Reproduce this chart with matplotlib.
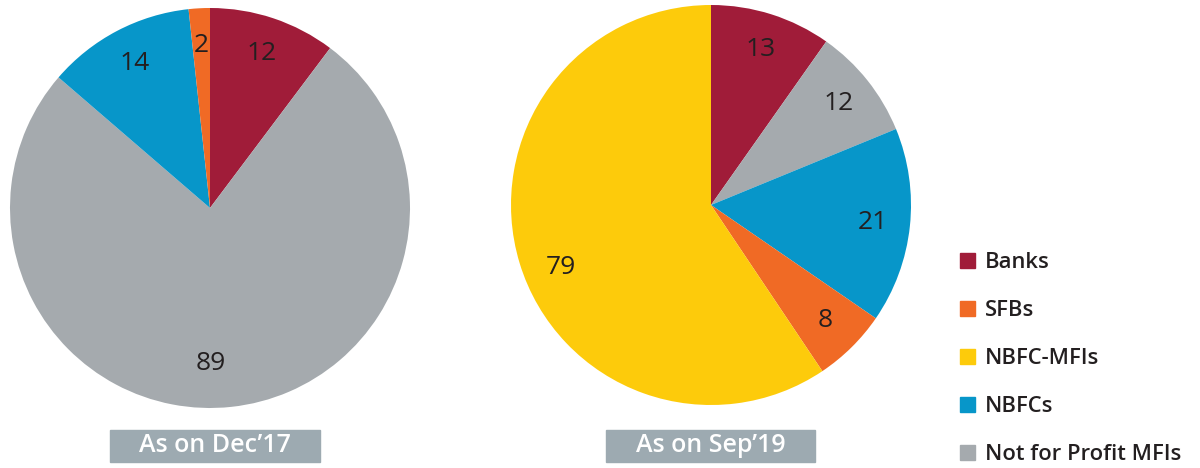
import matplotlib.pyplot as plt
from matplotlib.patches import Patch, Rectangle

plt.rcParams['font.family'] = ['Open Sans', 'DejaVu Sans']

# legend order
categories = ['Banks', 'SFBs', 'NBFC-MFIs', 'NBFCs', 'Not for Profit MFIs']
colors = {'Banks': '#A01C39', 'SFBs': '#F06A25', 'NBFC-MFIs': '#FDCB0B',
          'NBFCs': '#0796C9', 'Not for Profit MFIs': '#A5AAAE'}

# slices clockwise from 12 o'clock
dec17_order = ['Banks', 'Not for Profit MFIs', 'NBFCs', 'SFBs']
dec17_values = [12, 89, 14, 2]
sep19_order = ['Banks', 'Not for Profit MFIs', 'NBFCs', 'SFBs', 'NBFC-MFIs']
sep19_values = [13, 12, 21, 8, 79]
titles = ["As on Dec\u201917", "As on Sep\u201919"]

W, H = 1200, 468
fig = plt.figure(figsize=(12, 4.68), dpi=100)


def draw_pie(cx, cy, r, order, values, moved=None):
    ax = fig.add_axes([(cx - r) / W, (H - cy - r) / H, 2 * r / W, 2 * r / H])
    wedges, texts = ax.pie(values, colors=[colors[c] for c in order],
                           labels=[str(v) for v in values],
                           startangle=90, counterclock=False, labeldistance=0.815,
                           textprops=dict(fontsize=19, color='#231F20',
                                          ha='center', va='center'),
                           wedgeprops=dict(linewidth=0))
    # the big slice labels sit off the wedge mid-line in the original
    for i, pos in (moved or {}).items():
        texts[i].set_position(pos)
    ax.set_xlim(-1, 1)
    ax.set_ylim(-1, 1)
    ax.set_aspect('equal')
    ax.axis('off')


def title_box(x0, x1, text):
    y0, y1 = 430, 462
    fig.patches.append(Rectangle((x0 / W, (H - y1) / H), (x1 - x0) / W, (y1 - y0) / H,
                                 transform=fig.transFigure, color='#9DAAB1', zorder=0))
    fig.text((x0 + x1) / 2 / W, (H - (y0 + y1) / 2) / H, text, color='white',
             fontsize=18, fontweight='semibold', ha='center', va='center')


draw_pie(210, 208, 200, dec17_order, dec17_values, moved={1: (0.005, -0.78)})
draw_pie(711, 205, 200, sep19_order, sep19_values, moved={4: (-0.75, -0.31)})
title_box(110, 320, titles[0])
title_box(606, 815, titles[1])

handles = [Patch(color=colors[c], label=c) for c in categories]
fig.legend(handles=handles, loc='upper left', bbox_to_anchor=(960 / W, (H - 252) / H),
           frameon=False, handlelength=0.68, handleheight=0.68,
           handletextpad=0.46, labelspacing=1.23, borderaxespad=0, borderpad=0,
           prop=dict(weight='semibold', size=15.8))
for t in fig.legends[0].get_texts():
    t.set_color('#231F20')

fig.savefig('out.png', dpi=100)
